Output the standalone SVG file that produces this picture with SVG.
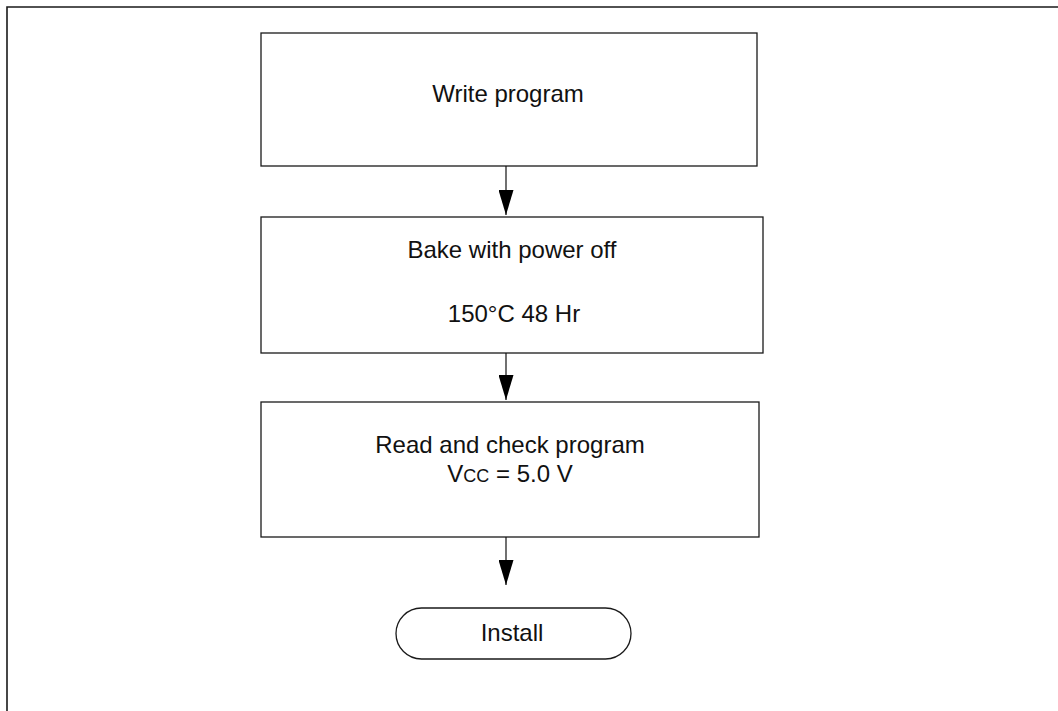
<svg xmlns="http://www.w3.org/2000/svg" width="1058" height="711" viewBox="0 0 1058 711">
<defs>
<style>
.box{fill:#fff;stroke:#1a1a1a;stroke-width:1.3}
.t{font-family:"Liberation Sans",Arial,sans-serif;font-size:24px;fill:#111;text-anchor:middle}
.c{stroke:#111;stroke-width:1.2;fill:none}
.frame{stroke:#1a1a1a;stroke-width:1.6;fill:none}
</style>
<marker id="ah" markerUnits="userSpaceOnUse" markerWidth="25" markerHeight="15" refX="25" refY="7.5" orient="auto" viewBox="0 0 25 15">
<path d="M0,0 L25,7.5 L0,15 Z" fill="#000"/>
</marker>
</defs>
<rect width="1058" height="711" fill="#fff"/>
<path class="frame" d="M7,711 V7 H1058"/>
<g id="n1">
<rect class="box" x="261" y="33" width="496" height="133"/>
<text class="t" x="508" y="102">Write program</text>
</g>
<g id="n2">
<rect class="box" x="261" y="217" width="502" height="136"/>
<text class="t" x="512" y="258">Bake with power off</text>
<text class="t" x="514" y="322">150°C 48 Hr</text>
</g>
<g id="n3">
<rect class="box" x="261" y="402" width="498" height="135"/>
<text class="t" x="510" y="453">Read and check program</text>
<text class="t" x="510" y="482">V<tspan font-size="18">CC</tspan> = 5.0 V</text>
</g>
<g id="n4">
<rect class="box" x="396" y="608" width="235" height="51" rx="25.5" ry="25.5"/>
<text class="t" x="512" y="641">Install</text>
</g>
<g id="connectors">
<line class="c" x1="506" y1="166" x2="506" y2="215" marker-end="url(#ah)"/>
<line class="c" x1="506" y1="353" x2="506" y2="400" marker-end="url(#ah)"/>
<line class="c" x1="506" y1="537" x2="506" y2="585" marker-end="url(#ah)"/>
</g>
</svg>
